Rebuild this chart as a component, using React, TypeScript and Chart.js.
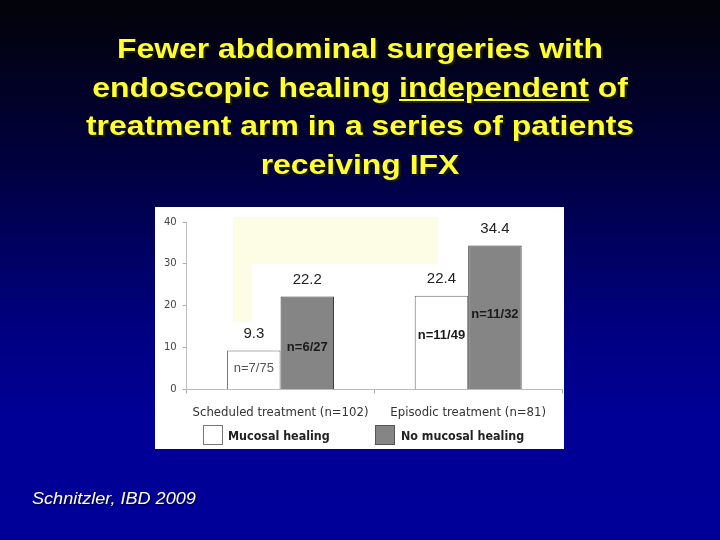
import React, { useEffect, useRef } from "react";
import { Chart, registerables } from "chart.js";

Chart.register(...registerables);

const categories = ["Scheduled treatment (n=102)", "Episodic treatment (n=81)"];
const seriesNames = ["Mucosal healing", "No mucosal healing"];
const mucosalHealing = [9.3, 22.4];
const noMucosalHealing = [22.2, 34.4];
const mucosalCounts = ["n=7/75", "n=11/49"];
const noMucosalCounts = ["n=6/27", "n=11/32"];
// value level (y units) at which each in-bar count label sits
const mucosalCountLevels = [5.0, 13.0];
const noMucosalCountLevels = [10.1, 17.8];
const yTicks = [0, 10, 20, 30, 40];

const titleLines = [
  ["Fewer abdominal surgeries with"],
  ["endoscopic healing ", "independent", " of"],
  ["treatment arm in a series of patients"],
  ["receiving IFX"],
];

const labelPlugin = {
  id: "barLabels",
  afterDatasetsDraw(chart: any) {
    const ctx = chart.ctx;
    const counts = [mucosalCounts, noMucosalCounts];
    const levels = [mucosalCountLevels, noMucosalCountLevels];
    const yScale = chart.scales.y;
    chart.data.datasets.forEach((ds: any, di: number) => {
      const meta = chart.getDatasetMeta(di);
      meta.data.forEach((bar: any, i: number) => {
        const v = ds.data[i];
        ctx.save();
        ctx.textAlign = "center";
        ctx.textBaseline = "bottom";
        ctx.fillStyle = "#222";
        ctx.font = "15px 'Liberation Sans', Arial, sans-serif";
        ctx.fillText(v.toFixed(1), bar.x, bar.y - 9);
        const ly = yScale.getPixelForValue(levels[di][i]);
        ctx.textBaseline = "middle";
        if (di === 0 && i === 0) {
          ctx.font = "13px 'Liberation Sans', Arial, sans-serif";
          ctx.fillStyle = "#555";
        } else {
          ctx.font = "bold 13px 'Liberation Sans', Arial, sans-serif";
          ctx.fillStyle = "#1a1a1a";
        }
        ctx.fillText(counts[di][i], bar.x, ly);
        ctx.restore();
      });
    });
  },
};

function ChartPanel() {
  const ref = useRef<HTMLCanvasElement | null>(null);
  useEffect(() => {
    if (!ref.current) return;
    const chart = new Chart(ref.current, {
      type: "bar",
      data: {
        labels: categories,
        datasets: [
          {
            label: seriesNames[0],
            data: mucosalHealing,
            backgroundColor: "#ffffff",
            borderColor: "#666666",
            borderWidth: 1,
            categoryPercentage: 0.57,
            barPercentage: 1,
          },
          {
            label: seriesNames[1],
            data: noMucosalHealing,
            backgroundColor: "#858585",
            borderColor: "#3a3a3a",
            borderWidth: 1,
            categoryPercentage: 0.57,
            barPercentage: 1,
          },
        ],
      },
      options: {
        animation: false,
        responsive: false,
        maintainAspectRatio: false,
        layout: { padding: { left: 3, right: 2, top: 15, bottom: 18 } },
        plugins: {
          tooltip: { enabled: false },
          legend: { display: false },
        },
        scales: {
          x: {
            grid: { drawOnChartArea: false, color: "#aaa", tickLength: 4, offset: true },
            border: { color: "#bbb" },
            ticks: {
              color: "#333",
              padding: 11,
              font: { family: "'DejaVu Sans Condensed', 'DejaVu Sans', sans-serif", size: 13 },
            },
          },
          y: {
            min: 0,
            max: 40,
            afterBuildTicks: (axis: any) => {
              axis.ticks = yTicks.map((v) => ({ value: v }));
            },
            grid: { drawOnChartArea: false, color: "#aaa", tickLength: 4 },
            border: { color: "#bbb" },
            ticks: {
              color: "#444",
              padding: 6,
              font: { family: "'DejaVu Sans', sans-serif", size: 10 },
            },
          },
        },
      },
      plugins: [labelPlugin],
    } as any);
    return () => chart.destroy();
  }, []);
  return <canvas ref={ref} width={409} height={242} style={{ position: "absolute", left: 0, top: 0 }} />;
}

function Legend() {
  const itemStyle: React.CSSProperties = {
    position: "absolute",
    top: 0,
    display: "flex",
    alignItems: "center",
    fontFamily: "'DejaVu Sans Condensed', 'DejaVu Sans', sans-serif",
    fontWeight: "bold",
    fontSize: 12.4,
    color: "#222",
    whiteSpace: "nowrap",
  };
  return (
    <div style={{ position: "absolute", left: 0, top: 218, width: 409, height: 20 }}>
      <div style={{ ...itemStyle, left: 48 }}>
        <span style={{ display: "inline-block", width: 18, height: 18, background: "#fff", border: "1px solid #777", marginRight: 5 }} />
        {seriesNames[0]}
      </div>
      <div style={{ ...itemStyle, left: 220 }}>
        <span style={{ display: "inline-block", width: 18, height: 18, background: "#858585", border: "1px solid #555", marginRight: 6 }} />
        {seriesNames[1]}
      </div>
    </div>
  );
}

export default function App() {
  return (
    <div
      style={{
        position: "fixed",
        left: 0,
        top: 0,
        width: 720,
        height: 540,
        overflow: "hidden",
        background: "linear-gradient(to bottom, #030308 0%, #00003e 30%, #000080 60%, #000096 78%, #000099 100%)",
        fontFamily: "'Liberation Sans', Arial, sans-serif",
      }}
    >
      <div
        style={{
          position: "absolute",
          left: 0,
          top: 30,
          width: 720,
          textAlign: "center",
          color: "#ffff33",
          fontWeight: "bold",
          fontSize: 28,
          lineHeight: "38.5px",
          textShadow: "2px 2px 1px #1a1a00",
        }}
      >
        {titleLines.map((parts, i) => (
          <div key={i} style={{ transform: "scaleX(1.14)", transformOrigin: "center" }}>
            {parts.map((p, j) => (
              <span key={j} style={p === "independent" ? { textDecoration: "underline" } : undefined}>
                {p}
              </span>
            ))}
          </div>
        ))}
      </div>
      <div
        style={{
          position: "absolute",
          left: 155,
          top: 207,
          width: 409,
          height: 242,
          background: "#ffffff",
        }}
      >
        <div style={{ position: "absolute", left: 78, top: 10, width: 205, height: 47, background: "#fdfde6" }} />
        <div style={{ position: "absolute", left: 78, top: 57, width: 19, height: 58, background: "#fdfde6" }} />
        <ChartPanel />
        <Legend />
      </div>
      <div
        style={{
          position: "absolute",
          left: 32,
          top: 490,
          color: "#ffffff",
          fontStyle: "italic",
          fontSize: 16,
          transform: "scaleX(1.13)",
          transformOrigin: "left",
          textShadow: "1px 1px 1px #000044",
        }}
      >
        Schnitzler, IBD 2009
      </div>
    </div>
  );
}
